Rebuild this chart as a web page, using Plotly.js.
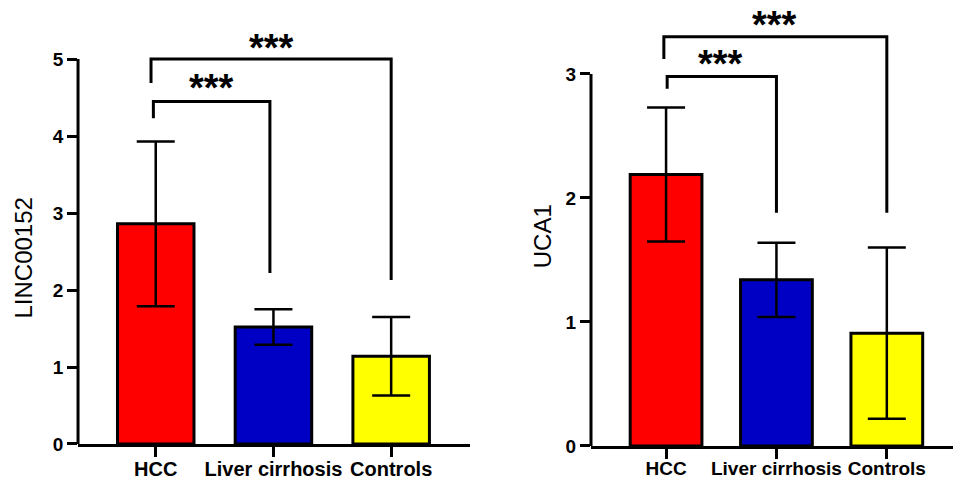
<!DOCTYPE html>
<html>
<head>
<meta charset="utf-8">
<script src="https://cdn.plot.ly/plotly-3.0.1.min.js"></script>
<style>html,body{margin:0;padding:0;background:#fff;}#chart{width:954px;height:479px;}</style>
</head>
<body>
<div id="chart"></div>
<script>
// ---- data ----
var categories = ["HCC", "Liver cirrhosis", "Controls"];
var lincMean = [2.86, 1.52, 1.14];
var lincSD   = [1.07, 0.23, 0.51];
var ucaMean  = [2.19, 1.34, 0.91];
var ucaSD    = [0.54, 0.30, 0.69];
var barColors = ["#FF0000", "#0000C4", "#FFFF00"];
var sigLabel = "***";
var lincTicks = [0, 1, 2, 3, 4, 5];
var ucaTicks = [0, 1, 2, 3];
// significance brackets (x in category index, y in data units)
var lincOuterX = [-0.04, -0.04, 2, 2];
var lincOuterY = [4.69, 5.0, 5.0, 2.13];
var lincInnerX = [-0.02, -0.02, 0.97, 0.97];
var lincInnerY = [4.23, 4.45, 4.45, 2.22];
var ucaOuterX = [-0.02, -0.02, 2, 2];
var ucaOuterY = [3.12, 3.30, 3.30, 1.88];
var ucaInnerX = [0.01, 0.01, 1.0, 1.0];
var ucaInnerY = [2.88, 2.98, 2.98, 1.88];

var idx = categories.map(function(c, i){ return i; });
var FONT = "Arial, 'Liberation Sans', Helvetica, sans-serif";

function barTrace(means, sds, xa, ya) {
  return {
    type: "bar", x: idx, y: means, xaxis: xa, yaxis: ya, width: 0.65,
    marker: {color: barColors, line: {color: "#000", width: 3}},
    error_y: {type: "data", array: sds, visible: true, color: "#000", thickness: 2.5, width: 19},
    showlegend: false, hoverinfo: "skip"
  };
}
function bracket(xs, ys, xa, ya) {
  return {type: "scatter", mode: "lines", x: xs, y: ys, xaxis: xa, yaxis: ya,
    line: {color: "#000", width: 3}, cliponaxis: false, showlegend: false, hoverinfo: "skip"};
}

var traces = [
  barTrace(lincMean, lincSD, "x", "y"),
  barTrace(ucaMean, ucaSD, "x2", "y2"),
  bracket(lincOuterX, lincOuterY, "x", "y"),
  bracket(lincInnerX, lincInnerY, "x", "y"),
  bracket(ucaOuterX, ucaOuterY, "x2", "y2"),
  bracket(ucaInnerX, ucaInnerY, "x2", "y2")
];

function xAxis(domain, range, anchor, fsize, standoff) {
  return {domain: domain, range: range, anchor: anchor, tickmode: "array", tickvals: idx, ticktext: categories,
    showline: true, linecolor: "#000", linewidth: 3, ticks: "outside", ticklen: 10, tickwidth: 3, tickcolor: "#000",
    showgrid: false, zeroline: false, fixedrange: true, ticklabelstandoff: standoff, tickangle: 0,
    tickfont: {family: FONT, size: fsize, color: "#000", weight: "bold"}};
}
function yAxis(domain, range, anchor, ticks) {
  return {domain: domain, range: range, anchor: anchor, tickmode: "array", tickvals: ticks,
    showline: false, ticks: "outside", ticklen: 10, tickwidth: 3, tickcolor: "#000",
    showgrid: false, zeroline: false, fixedrange: true,
    tickfont: {family: FONT, size: 19, color: "#000", weight: "bold"}};
}

function star(x, y, xr, yr) {
  return {x: x, y: y, xref: xr, yref: yr, text: sigLabel, showarrow: false,
    font: {family: FONT, size: 38, color: "#000", weight: "bold"}, xanchor: "center", yanchor: "middle"};
}
function ytitle(text, x, y, yr) {
  return {x: x, y: y, xref: "paper", yref: yr, text: text, showarrow: false, textangle: -90,
    font: {family: FONT, size: 24, color: "#000"}, xanchor: "center", yanchor: "middle"};
}
function yline(ticks, xr, yr) {
  return {type: "line", xref: xr, yref: yr, x0: 0, x1: 0, y0: ticks[0], y1: ticks[ticks.length - 1],
    line: {color: "#000", width: 3}};
}

var layout = {
  width: 954, height: 479,
  margin: {l: 0, r: 0, t: 0, b: 0},
  paper_bgcolor: "#fff", plot_bgcolor: "#fff",
  xaxis: xAxis([0.0818, 0.4927], [-0.66, 2.67], "y", 20, -5),
  yaxis: yAxis([0.0731, 0.9570], [0, 5.5], "x", lincTicks),
  xaxis2: xAxis([0.6195, 0.999], [-0.68, 2.6], "y2", 19, -7),
  yaxis2: yAxis([0.0689, 0.9750], [0, 3.5], "x2", ucaTicks),
  shapes: [
    yline(lincTicks, "x domain", "y"),
    yline(ucaTicks, "x2 domain", "y2")
  ],
  annotations: [
    star(0.98, 5.14, "x", "y"),
    star(0.47, 4.62, "x", "y"),
    star(0.98, 3.395, "x2", "y2"),
    star(0.49, 3.08, "x2", "y2"),
    ytitle("LINC00152", 0.025, 2.42, "y"),
    ytitle("UCA1", 0.569, 1.69, "y2")
  ]
};

Plotly.newPlot("chart", traces, layout, {displayModeBar: false, staticPlot: true});
</script>
</body>
</html>
